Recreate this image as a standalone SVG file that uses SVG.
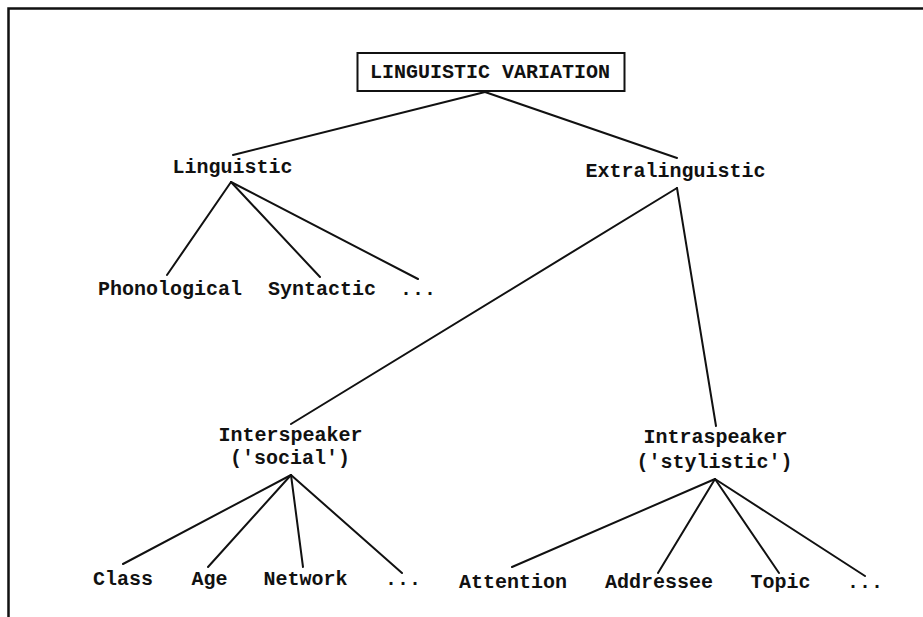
<svg xmlns="http://www.w3.org/2000/svg" width="923" height="617" viewBox="0 0 923 617">
<style>
text{font-family:"Liberation Mono","Courier New",monospace;font-weight:bold;font-size:20px;fill:#111;text-anchor:middle}
.c line{stroke:#111;stroke-width:2;stroke-linecap:round}
.frame{stroke:#111;stroke-width:2.5;fill:none}
</style>
<rect width="923" height="617" fill="#fff"/>
<path class="frame" d="M8.5,617 V8.5 H923"/>
<g class="c" id="connectors">
<line x1="485" y1="92" x2="233" y2="155"/>
<line x1="485" y1="92" x2="677" y2="158"/>
<line x1="231" y1="182" x2="167" y2="275"/>
<line x1="231" y1="182" x2="320" y2="277"/>
<line x1="231" y1="182" x2="418" y2="279"/>
<line x1="677" y1="188" x2="291" y2="424"/>
<line x1="677" y1="188" x2="716" y2="426"/>
<line x1="291" y1="475" x2="123" y2="564"/>
<line x1="291" y1="475" x2="208" y2="567"/>
<line x1="291" y1="475" x2="303" y2="567"/>
<line x1="291" y1="475" x2="402" y2="573"/>
<line x1="715" y1="479" x2="512" y2="567"/>
<line x1="715" y1="479" x2="658" y2="573"/>
<line x1="715" y1="479" x2="779" y2="573"/>
<line x1="715" y1="479" x2="865" y2="576"/>
</g>
<g id="root"><rect x="357.5" y="53" width="267" height="38" fill="#fff" stroke="#111" stroke-width="2"/><text x="490" y="78">LINGUISTIC VARIATION</text></g>
<g id="linguistic"><text x="232.5" y="173">Linguistic</text></g>
<g id="extralinguistic"><text x="675.5" y="177">Extralinguistic</text></g>
<g id="phonological"><text x="170" y="295">Phonological</text></g>
<g id="syntactic"><text x="322" y="295">Syntactic</text></g>
<g id="ling-more"><text x="418" y="295">...</text></g>
<g id="interspeaker"><text x="290.5" y="441">Interspeaker</text><text x="290" y="464">('social')</text></g>
<g id="intraspeaker"><text x="715.5" y="443">Intraspeaker</text><text x="714.5" y="468">('stylistic')</text></g>
<g id="class"><text x="123" y="585">Class</text></g>
<g id="age"><text x="209.5" y="585">Age</text></g>
<g id="network"><text x="305.5" y="585">Network</text></g>
<g id="inter-more"><text x="403" y="585">...</text></g>
<g id="attention"><text x="513" y="588">Attention</text></g>
<g id="addressee"><text x="659" y="588">Addressee</text></g>
<g id="topic"><text x="780.5" y="588">Topic</text></g>
<g id="intra-more"><text x="865" y="588">...</text></g>
</svg>
